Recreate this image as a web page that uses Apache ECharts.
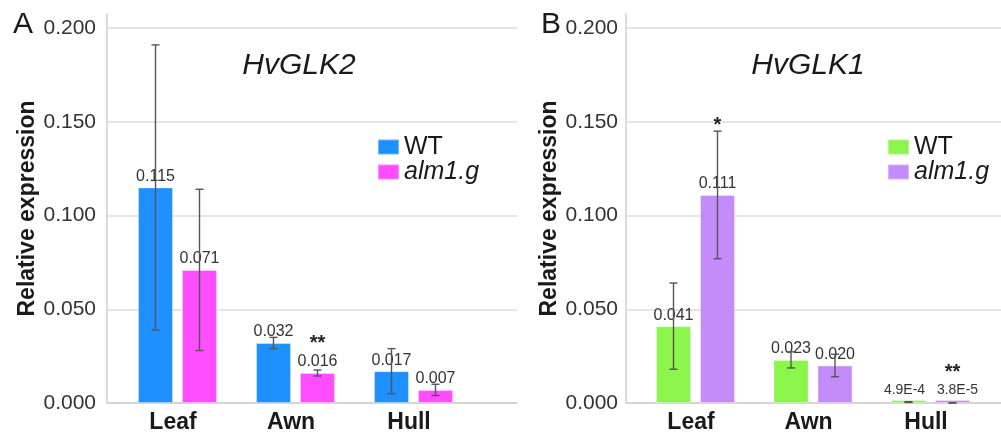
<!DOCTYPE html>
<html>
<head>
<meta charset="utf-8">
<script src="https://cdn.jsdelivr.net/npm/echarts@6/dist/echarts.min.js"></script>
<style>
html,body{margin:0;padding:0;background:#fff;}
#chart{width:1001px;height:437px;}
</style>
</head>
<body>
<div id="chart"></div>
<script>
// ---- data ----
const categories = ['Leaf', 'Awn', 'Hull'];
const seriesNames = ['WT', 'alm1.g'];

// Panel A: HvGLK2
const wtA = [0.115, 0.032, 0.017];
const mutA = [0.071, 0.016, 0.007];
const wtAErr = [0.076, 0.003, 0.012];
const mutAErr = [0.043, 0.0016, 0.003];
const wtALabels = ['0.115', '0.032', '0.017'];
const mutALabels = ['0.071', '0.016', '0.007'];
const wtASig = ['', '', ''];
const mutASig = ['', '**', ''];

// Panel B: HvGLK1
const wtB = [0.041, 0.023, 0.00049];
const mutB = [0.111, 0.020, 0.000038];
const wtBErr = [0.023, 0.0043, 0.0002];
const mutBErr = [0.034, 0.006, 0.00002];
const wtBLabels = ['0.041', '0.023', '4.9E-4'];
const mutBLabels = ['0.111', '0.020', '3.8E-5'];
const wtBSig = ['', '', ''];
const mutBSig = ['*', '', '**'];

const yTickInterval = 0.05;
const yTop = 0.2075;

// ---- styles ----
const FONT = "'Liberation Sans', Arial, sans-serif";
const colA = ['#1E90FF', '#FF4DFF'];
const colB = ['#8CF54B', '#C48BFA'];
const BAR_W = 35;
const BAR_GAP = 9;
const OFFS = [-(BAR_W + BAR_GAP) / 2, (BAR_W + BAR_GAP) / 2];
// label style tweaks (layout only) for crowded labels in panel B, Hull
const wtBLabelStyle = [null, null, {fontSize: 14, offset: [-4, 0]}];
const mutBLabelStyle = [null, null, {fontSize: 14, offset: [5, 0]}];

const chart = echarts.init(document.getElementById('chart'), null, {renderer: 'canvas'});

function bgYAxis(gridIndex, margin) {
  return {
    type: 'value', gridIndex, min: 0, max: yTop, interval: yTickInterval,
    name: 'Relative expression', nameLocation: 'middle', nameGap: 64,
    nameTextStyle: {fontFamily: FONT, fontSize: 23, fontWeight: 'bold', color: '#1a1a1a'},
    axisLine: {show: true, lineStyle: {color: '#cfcfcf', width: 1.5}},
    axisTick: {show: false},
    axisLabel: {
      fontFamily: FONT, fontSize: 21, color: '#333', margin,
      showMaxLabel: false,
      formatter: v => (Math.abs(v / yTickInterval - Math.round(v / yTickInterval)) < 1e-6 ? v.toFixed(3) : '')
    },
    splitLine: {show: true, showMaxLine: false, lineStyle: {color: '#dcdcdc', width: 1.5}}
  };
}
function bgXAxis(gridIndex) {
  return {
    type: 'value', gridIndex, min: 0, max: 1, show: true,
    axisLine: {show: true, onZero: false, lineStyle: {color: '#cfcfcf', width: 1.5}},
    axisTick: {show: false}, axisLabel: {show: false}, splitLine: {show: false}
  };
}
function barXAxis(gridIndex) {
  return {
    type: 'category', gridIndex, data: categories,
    axisLine: {show: false}, axisTick: {show: false},
    axisLabel: {fontFamily: FONT, fontSize: 23, fontWeight: 'bold', color: '#1a1a1a', margin: 8, padding: [0, 9, 0, 0]}
  };
}
function barYAxis(gridIndex) {
  return {type: 'value', gridIndex, min: 0, max: yTop, interval: yTickInterval, show: false, splitLine: {show: false}};
}

function barSeries(name, axisIdx, values, labels, color, labelStyles) {
  return {
    type: 'bar', name, xAxisIndex: axisIdx, yAxisIndex: axisIdx,
    data: values.map((v, i) => (labelStyles && labelStyles[i]) ? {value: v, label: labelStyles[i]} : v),
    barWidth: BAR_W, barGap: (BAR_GAP / BAR_W * 100) + '%',
    barMinHeight: 3,
    itemStyle: {color, borderColor: 'rgba(255,255,255,0.35)', borderWidth: 1},
    label: {
      show: true, position: 'top', distance: 3,
      fontFamily: FONT, fontSize: 16, color: '#333',
      formatter: p => labels[p.dataIndex]
    },
    z: 2
  };
}

function errSeries(axisIdx, values, errs, sigs, off) {
  return {
    type: 'custom', xAxisIndex: axisIdx, yAxisIndex: axisIdx,
    data: values.map((v, i) => [i, v, errs[i]]),
    z: 5, silent: true,
    renderItem: function (params, api) {
      const i = api.value(0), v = api.value(1), e = api.value(2);
      const c = api.coord([i, v]);
      const hi = api.coord([i, v + e]);
      const lo = api.coord([i, Math.max(0, v - e)]);
      const x = c[0] + off;
      const cap = 4;
      const st = {stroke: '#555', lineWidth: 1.4};
      const children = [
        {type: 'line', shape: {x1: x, y1: hi[1], x2: x, y2: lo[1]}, style: st},
        {type: 'line', shape: {x1: x - cap, y1: hi[1], x2: x + cap, y2: hi[1]}, style: st},
        {type: 'line', shape: {x1: x - cap, y1: lo[1], x2: x + cap, y2: lo[1]}, style: st}
      ];
      const s = sigs[params.dataIndex];
      if (s) {
        const top = Math.min(hi[1], c[1] - 24);
        children.push({
          type: 'text', x: x, y: top - 6,
          style: {text: s, font: 'bold 20px ' + FONT, fill: '#222', align: 'center', verticalAlign: 'middle'}
        });
      }
      return {type: 'group', children};
    }
  };
}

function legendCfg(left, names) {
  return {
    orient: 'vertical', left, top: 134.5, padding: 0,
    itemWidth: 21, itemHeight: 15, itemGap: 0,
    icon: 'rect', data: names,
    formatter: n => n.indexOf('alm1.g') === 0 ? '{i|alm1.g}' : 'WT',
    textStyle: {fontFamily: FONT, fontSize: 25, lineHeight: 25, color: '#1a1a1a',
      rich: {i: {fontFamily: FONT, fontSize: 25, fontStyle: 'italic', color: '#1a1a1a', lineHeight: 25}}}
  };
}

const option = {
  backgroundColor: '#fff',
  animation: false,
  grid: [
    {left: 107, right: 484, top: 14, bottom: 34},      // A background
    {left: 118.5, right: 528.5, top: 14, bottom: 34},  // A bars
    {left: 626, right: 0, top: 14, bottom: 34},        // B background
    {left: 636.75, right: 11.75, top: 14, bottom: 34}  // B bars
  ],
  xAxis: [bgXAxis(0), barXAxis(1), bgXAxis(2), barXAxis(3)],
  yAxis: [bgYAxis(0, 11), barYAxis(1), bgYAxis(2, 8), barYAxis(3)],
  legend: [legendCfg(377, ['WT', 'alm1.g']), legendCfg(887, ['WT_B', 'alm1.g_B'])],
  graphic: [
    {type: 'text', x: 13, y: 25, style: {text: 'A', font: '30px ' + FONT, fill: '#1a1a1a', align: 'left', verticalAlign: 'middle'}},
    {type: 'text', x: 541, y: 25, style: {text: 'B', font: '30px ' + FONT, fill: '#1a1a1a', align: 'left', verticalAlign: 'middle'}},
    {type: 'text', x: 299, y: 66, style: {text: 'HvGLK2', font: 'italic 30px ' + FONT, fill: '#1a1a1a', align: 'center', verticalAlign: 'middle'}},
    {type: 'text', x: 808, y: 66, style: {text: 'HvGLK1', font: 'italic 30px ' + FONT, fill: '#1a1a1a', align: 'center', verticalAlign: 'middle'}}
  ],
  series: [
    barSeries('WT', 1, wtA, wtALabels, colA[0]),
    barSeries('alm1.g', 1, mutA, mutALabels, colA[1]),
    errSeries(1, wtA, wtAErr, wtASig, OFFS[0]),
    errSeries(1, mutA, mutAErr, mutASig, OFFS[1]),
    barSeries('WT_B', 3, wtB, wtBLabels, colB[0], wtBLabelStyle),
    barSeries('alm1.g_B', 3, mutB, mutBLabels, colB[1], mutBLabelStyle),
    errSeries(3, wtB, wtBErr, wtBSig, OFFS[0]),
    errSeries(3, mutB, mutBErr, mutBSig, OFFS[1])
  ]
};
chart.setOption(option);
</script>
</body>
</html>
